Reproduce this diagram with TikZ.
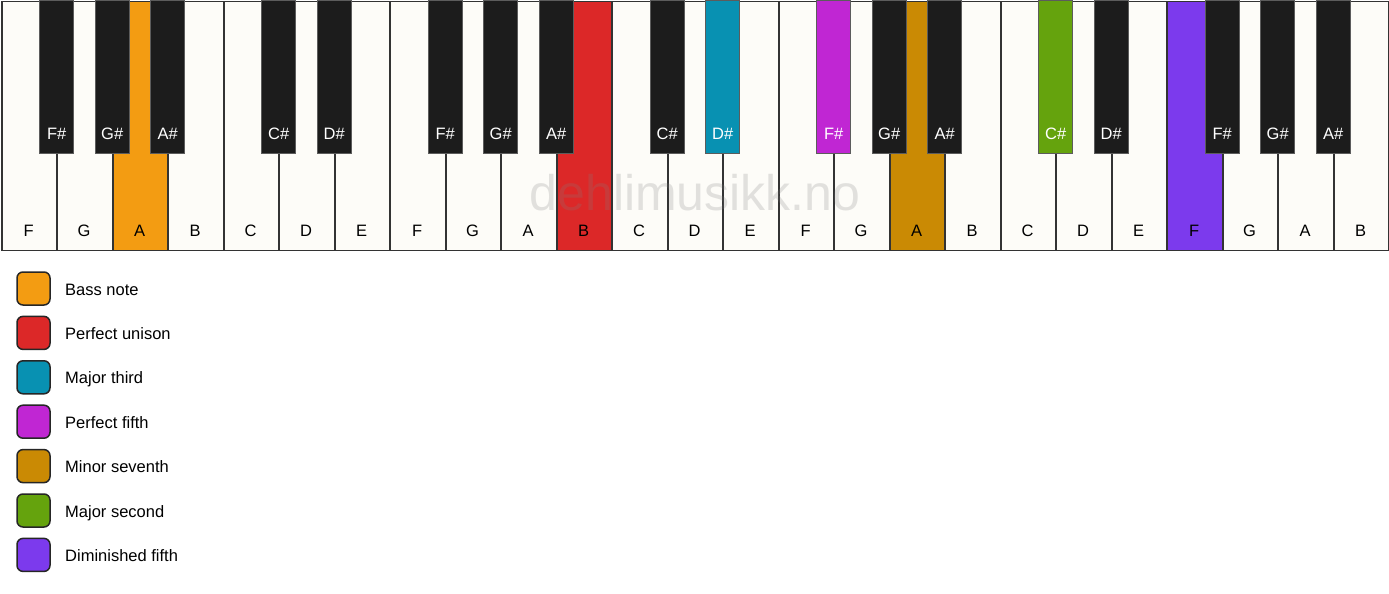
\documentclass[tikz,border=0pt]{standalone}
\usepackage{fontspec}
\setmainfont{Liberation Sans}
\definecolor{wkey}{HTML}{FDFCF8}
\definecolor{bkey}{HTML}{1C1C1C}
\definecolor{keyline}{HTML}{333333}
\definecolor{cbass}{HTML}{F39C12}
\definecolor{cuni}{HTML}{DC2828}
\definecolor{cthird}{HTML}{0891B2}
\definecolor{cfifth}{HTML}{C026D3}
\definecolor{cseventh}{HTML}{CA8A04}
\definecolor{csecond}{HTML}{65A30D}
\definecolor{cdim}{HTML}{7C3AED}
\begin{document}
\begin{tikzpicture}[x=1pt,y=-1pt,
  whitekey/.style={draw=keyline,line width=1.6pt,fill=wkey},
  blackkey/.style={draw=keyline!80,line width=1.3pt,fill=bkey},
  wlabel/.style={anchor=base,font=\fontsize{16.5}{16.5}\selectfont,text=black,inner sep=0pt},
  blabel/.style={anchor=base,font=\fontsize{16.5}{16.5}\selectfont,text=white,inner sep=0pt},
  legbox/.style={draw=black!85,line width=1.5pt,rounded corners=6pt,minimum width=33pt,minimum height=33pt,inner sep=0pt},
  legtext/.style={anchor=base west,font=\fontsize{16.5}{16.5}\selectfont,inner sep=0pt},
  wmark/.style={anchor=base,font=\fontsize{50}{50}\selectfont,text=black!50,opacity=0.22,inner sep=0pt}]
\useasboundingbox (0,0) rectangle (1389,594);
\fill[white] (0,0) rectangle (1389,594);
% white keys
\def\W{55.5}
\foreach \n/\c [count=\i from 0] in {F/wkey,G/wkey,A/cbass,B/wkey,C/wkey,D/wkey,E/wkey,F/wkey,G/wkey,A/wkey,B/cuni,C/wkey,D/wkey,E/wkey,F/wkey,G/wkey,A/cseventh,B/wkey,C/wkey,D/wkey,E/wkey,F/cdim,G/wkey,A/wkey,B/wkey}{
  \node[whitekey,fill=\c,minimum width=\W pt,minimum height=249pt,inner sep=0pt,anchor=north west] (w\i) at ({0.9+\i*\W},0.6) {};
  \node[wlabel] (wl\i) at ({0.9+(\i+0.5)*\W},236) {\n};
}
% watermark
\node[wmark] (wm) at (695,210) {dehlimusikk.no};
% black keys
\foreach \b/\n/\c in {1/F\#/bkey,2/G\#/bkey,3/A\#/bkey,5/C\#/bkey,6/D\#/bkey,
  8/F\#/bkey,9/G\#/bkey,10/A\#/bkey,12/C\#/bkey,13/D\#/cthird,
  15/F\#/cfifth,16/G\#/bkey,17/A\#/bkey,19/C\#/csecond,20/D\#/bkey,
  22/F\#/bkey,23/G\#/bkey,24/A\#/bkey}{
  \node[blackkey,fill=\c,minimum width=34pt,minimum height=153pt,inner sep=0pt,anchor=north] (b\b) at ({1.2+\b*\W},0) {};
  \node[blabel] (bl\b) at ({1.2+\b*\W},139) {\n};
}
% legend
\foreach \c/\t [count=\k from 0] in {cbass/Bass note,cuni/Perfect unison,cthird/Major third,cfifth/Perfect fifth,cseventh/Minor seventh,csecond/Major second,cdim/Diminished fifth}{
  \node[legbox,fill=\c] (lb\k) at (33.5,{288.5+\k*44.4}) {};
  \node[legtext] (lt\k) at (65,{295+\k*44.4}) {\t};
}
\end{tikzpicture}
\end{document}
